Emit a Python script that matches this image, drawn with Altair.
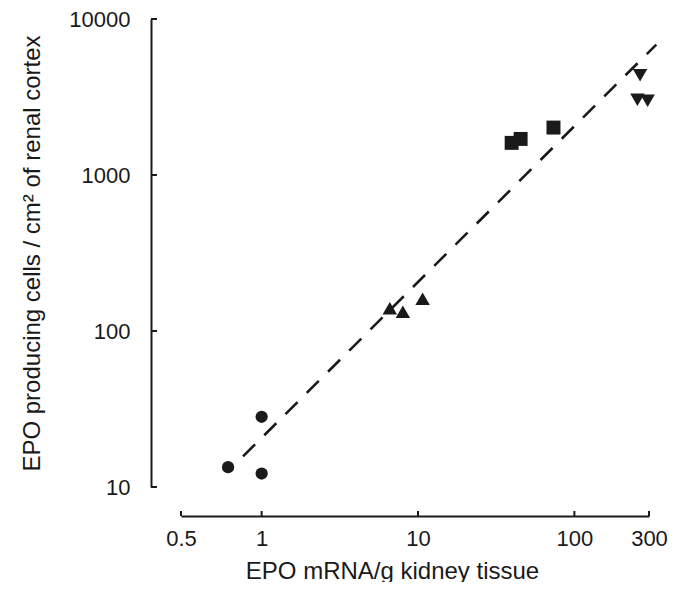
import altair as alt
import pandas as pd

# ---- data ----
circle_x = [0.61, 1.0, 1.0]
circle_y = [13.4, 28.2, 12.2]
tri_up_x = [6.6, 8.0, 10.7]
tri_up_y = [140, 133, 161]
square_x = [39.7, 45.3, 73.5]
square_y = [1607, 1703, 2014]
tri_down_x = [263, 253, 294]
tri_down_y = [4355, 3034, 2993]

fit_x = [0.76, 334]
fit_y = [15.7, 6855]

x_tick_values = [0.305, 1, 10, 100, 300]
x_tick_labels = ["0.5", "1", "10", "100", "300"]
y_tick_values = [10, 100, 1000, 10000]

x_title = "EPO mRNA/g kidney tissue"
y_title = "EPO producing cells / cm\u00b2 of renal cortex"

W, H = 468, 468
FONT = "Liberation Sans"
INK = "#1a1a1a"

x_scale = alt.Scale(type="log", domain=[x_tick_values[0], 300], nice=False)
y_scale = alt.Scale(type="log", domain=[10, 10000], nice=False)

label_expr = "datum.label"
for v, l in reversed(list(zip(x_tick_values, x_tick_labels))):
    label_expr = f"abs(datum.value - {v}) < 1e-6 ? '{l}' : ({label_expr})"

x_axis = alt.Axis(
    values=x_tick_values, labelExpr=label_expr, title=x_title, offset=29,
    domainColor=INK, domainWidth=2, ticks=False, tickSize=0, grid=False,
    labelPadding=12, labelFontSize=22, labelFont=FONT, labelColor=INK,
    titleFontSize=24, titleFont=FONT, titleFontWeight="normal", titleColor=INK,
    titlePadding=10, titleX=211, titleAlign="center", labelFlush=False,
)
y_axis = alt.Axis(
    values=y_tick_values, format="d", title=y_title, offset=30,
    domainColor=INK, domainWidth=2, ticks=False, tickSize=0, grid=False,
    labelPadding=21, labelFontSize=22, labelFont=FONT, labelColor=INK,
    titleFontSize=24, titleFont=FONT, titleFontWeight="normal", titleColor=INK,
    titlePadding=24, labelFlush=False,
)


def X():
    return alt.X("x:Q", scale=x_scale, axis=x_axis)


def Y():
    return alt.Y("y:Q", scale=y_scale, axis=y_axis)


def pts(xs, ys, shape, size):
    df = pd.DataFrame({"x": xs, "y": ys})
    return alt.Chart(df).mark_point(
        shape=shape, filled=True, size=size, color=INK, opacity=1
    ).encode(x=X(), y=Y())


line = alt.Chart(pd.DataFrame({"x": fit_x, "y": fit_y})).mark_line(
    color=INK, strokeWidth=2.6, strokeDash=[17, 13]
).encode(x=X(), y=Y())

ytick_rules = alt.Chart(pd.DataFrame({"y": y_tick_values})).mark_rule(
    color=INK, strokeWidth=2
).encode(y=Y(), x=alt.value(-30), x2=alt.value(-24))

xtick_rules = alt.Chart(pd.DataFrame({"x": x_tick_values})).mark_rule(
    color=INK, strokeWidth=2
).encode(x=X(), y=alt.value(H + 29), y2=alt.value(H + 24))

chart = alt.layer(
    line,
    pts(circle_x, circle_y, "circle", 150),
    pts(tri_up_x, tri_up_y, "triangle-up", 210),
    pts(square_x, square_y, "square", 195),
    pts(tri_down_x, tri_down_y, "triangle-down", 210),
    ytick_rules,
    xtick_rules,
).properties(
    width=W, height=H,
    autosize=alt.AutoSizeParams(type="none"),
    padding={"left": 173, "top": 11, "right": 20, "bottom": 95},
).configure(background="white").configure_view(strokeWidth=0, stroke="transparent")

chart.save("out.html", embed_options={"renderer": "svg", "actions": False})
